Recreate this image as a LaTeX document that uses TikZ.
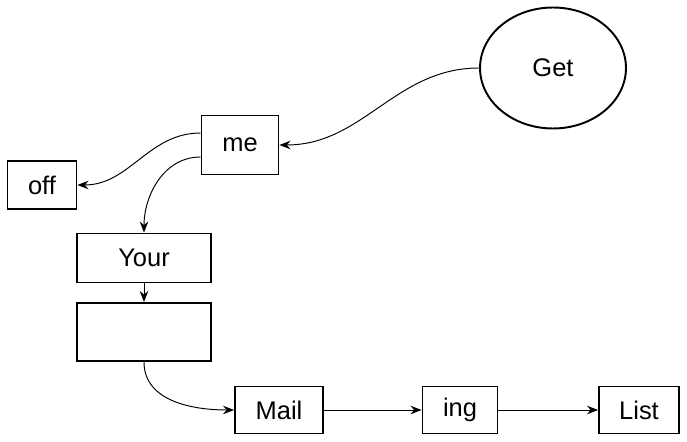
\documentclass[tikz,border=0pt]{standalone}
\usepackage{fontspec}
\setmainfont{Liberation Sans}
\usetikzlibrary{arrows.meta}
\usetikzlibrary{shapes.geometric}

\begin{document}
\begin{tikzpicture}[x=0.02cm,y=-0.02cm,
  bx/.style={draw,line width=1.1pt,rectangle,inner sep=0pt,font=\fontsize{14.5}{16}\selectfont,text=black},
  el/.style={draw,line width=1.1pt,ellipse,inner sep=0pt,minimum width=2.92cm,minimum height=2.42cm,font=\fontsize{14.5}{16}\selectfont},
  ed/.style={line width=0.55pt,-{Stealth[length=2.2mm,width=1.7mm]}}]
  \useasboundingbox (0,0) rectangle (687,442);
  % nodes
  \node[el] (get) at (553,68) {Get};
  \node[bx,minimum width=1.54cm,minimum height=1.18cm] (me) at (240,145) {me};
  \node[bx,minimum width=1.38cm,minimum height=0.96cm] (off) at (42,185) {off};
  \node[bx,minimum width=2.68cm,minimum height=0.98cm] (your) at (144,258) {Your};
  \node[bx,minimum width=2.68cm,minimum height=1.16cm] (blank) at (144,332) {};
  \node[bx,minimum width=1.76cm,minimum height=0.94cm] (mail) at (279,410) {Mail};
  \node[bx,minimum width=1.50cm,minimum height=0.94cm] (ing) at (460,410) {ing};
  \node[bx,minimum width=1.60cm,minimum height=0.94cm] (list) at (639,410) {List};
  % edges
  \draw[ed] (get.west) to[out=180,in=0] (me.east);
  \draw[ed] ([yshift=0.24cm]me.west) to[out=180,in=0] (off.east);
  \draw[ed] ([yshift=-0.24cm]me.west) to[out=180,in=90] (your.north);
  \draw[ed] (your.south) -- (blank.north);
  \draw[ed] (blank.south) to[out=-90,in=180] (mail.west);
  \draw[ed] (mail.east) -- (ing.west);
  \draw[ed] (ing.east) -- (list.west);
\end{tikzpicture}
\end{document}
